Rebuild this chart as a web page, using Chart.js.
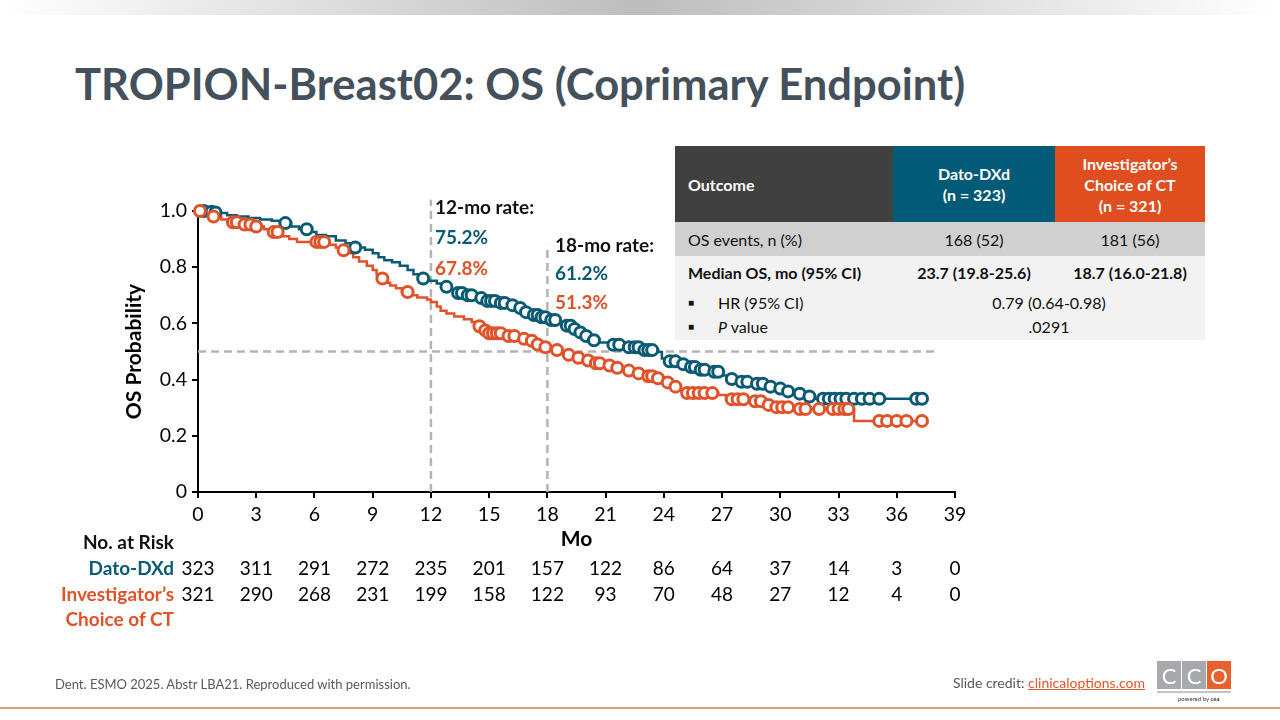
<!DOCTYPE html>
<html>
<head>
<meta charset="utf-8">
<script src="https://cdn.jsdelivr.net/npm/chart.js@4.4.1/dist/chart.umd.min.js"></script>
<style>
  body { margin: 0; width: 1280px; height: 720px; overflow: hidden; background: #fff; position: relative; font-family: Lato, "Open Sans", sans-serif; }
  .abs { position: absolute; white-space: nowrap; }
  #topbar { left: 0; top: 0; width: 1280px; height: 15px; background: linear-gradient(to right, #fff 0%, #bdbdbd 50%, #fff 100%); }
  #title { left: 75px; top: 57px; font-size: 43.5px; font-weight: 700; color: #44505c; }
  #chart { position: absolute; left: 0; top: 0; }
  .note { font-size: 19px; font-weight: 700; line-height: 30px; }
  .cell { position: absolute; box-sizing: border-box; display: flex; align-items: center; font-size: 16px; color: #111; }
  .hd { color: #fff; font-weight: 700; justify-content: center; text-align: center; line-height: 21px; }
  .risk { position: absolute; font-size: 19px; transform: translateX(-50%); }
  .rlab { position: absolute; font-size: 19px; font-weight: 700; right: 1106px; text-align: right; }
  #foot { left: 55px; top: 676px; font-size: 13px; color: #595959; }
  #credit { right: 135px; top: 674px; font-size: 14px; color: #595959; }
  #credit span { color: #e0562a; text-decoration: underline; }
  .logo { position: absolute; top: 661px; width: 24px; height: 28px; color: #fff; font-size: 22px; display: flex; align-items: center; justify-content: center; }
</style>
</head>
<body>
<div id="topbar" class="abs"></div>
<div id="title" class="abs">TROPION-Breast02: OS (Coprimary Endpoint)</div>
<canvas id="chart" width="1280" height="720"></canvas>

<div class="abs note" style="left:435px; top:192px; color:#111;">12-mo rate:</div>
<div class="abs note" style="left:435px; top:222px; color:#0b5a74;">75.2%</div>
<div class="abs note" style="left:435px; top:253px; color:#e0522a;">67.8%</div>
<div class="abs note" style="left:555px; top:230px; color:#111;">18-mo rate:</div>
<div class="abs note" style="left:555px; top:258px; color:#0b5a74;">61.2%</div>
<div class="abs note" style="left:555px; top:287px; color:#e0522a;">51.3%</div>

<div class="cell hd" style="left:675px; top:146px; width:218px; height:76px; background:#404040; justify-content:flex-start; padding-left:13px;">Outcome</div>
<div class="cell hd" style="left:893px; top:146px; width:162px; height:76px; background:#005a78;">Dato-DXd<br>(n = 323)</div>
<div class="cell hd" style="left:1055px; top:146px; width:150px; height:76px; background:#e04e1f;">Investigator’s<br>Choice of CT<br>(n = 321)</div>
<div class="cell" style="left:675px; top:222px; width:530px; height:34px; background:#d0d0d0;"></div>
<div class="cell" style="left:675px; top:256px; width:530px; height:84px; background:#f2f2f2;"></div>
<div class="cell" style="left:688px; top:222px; height:34px;">OS events, n (%)</div>
<div class="cell" style="left:893px; top:222px; width:162px; height:34px; justify-content:center;">168 (52)</div>
<div class="cell" style="left:1055px; top:222px; width:150px; height:34px; justify-content:center;">181 (56)</div>
<div class="cell" style="left:688px; top:256px; height:32px; font-weight:700;">Median OS, mo (95% CI)</div>
<div class="cell" style="left:893px; top:256px; width:162px; height:32px; justify-content:center; font-weight:700;">23.7 (19.8-25.6)</div>
<div class="cell" style="left:1055px; top:256px; width:150px; height:32px; justify-content:center; font-weight:700;">18.7 (16.0-21.8)</div>
<div class="cell" style="left:688px; top:290px; height:24px; font-size:10px;">■</div>
<div class="cell" style="left:718px; top:290px; height:24px;">HR (95% CI)</div>
<div class="cell" style="left:893px; top:290px; width:312px; height:24px; justify-content:center;">0.79 (0.64-0.98)</div>
<div class="cell" style="left:688px; top:314px; height:24px; font-size:10px;">■</div>
<div class="cell" style="left:718px; top:314px; height:24px;"><i>P</i>&nbsp;value</div>
<div class="cell" style="left:893px; top:314px; width:312px; height:24px; justify-content:center;">.0291</div>

<div class="rlab" style="top:530px; color:#111;">No. at Risk</div>
<div class="rlab" style="top:556px; color:#0b5a74;">Dato-DXd</div>
<div class="rlab" style="top:582px; color:#e0522a;">Investigator’s</div>
<div class="rlab" style="top:607px; color:#e0522a;">Choice of CT</div>
<div id="riskRows"></div>

<div id="foot" class="abs">Dent. ESMO 2025. Abstr LBA21. Reproduced with permission.</div>
<div id="credit" class="abs">Slide credit: <span>clinicaloptions.com</span></div>
<div class="logo" style="left:1157px; background:#a7a9ac;">C</div>
<div class="logo" style="left:1182px; background:#a7a9ac;">C</div>
<div class="logo" style="left:1207px; background:#e8602c;">O</div>
<div class="abs" style="left:1157px; top:691px; width:74px; height:2px; background:#c4c4c4;"></div>
<div class="abs" style="left:1178px; top:695px; font-size:6px; color:#333;">powered by <b>cea</b></div>
<div class="abs" style="left:0; top:707px; width:1280px; height:2px; background:#de9b7c;"></div>

<script>
// months on the x axis and patients at risk
const months = [0, 3, 6, 9, 12, 15, 18, 21, 24, 27, 30, 33, 36, 39];
const datoAtRisk = [323, 311, 291, 272, 235, 201, 157, 122, 86, 64, 37, 14, 3, 0];
const iccAtRisk = [321, 290, 268, 231, 199, 158, 122, 93, 70, 48, 27, 12, 4, 0];

// Kaplan-Meier steps [month, survival]
const datoSteps = [
    [0, 1.0], [0.5, 0.997], [1.0, 0.993], [1.5, 0.985], [2.0, 0.98], [2.6, 0.975], [3.2, 0.97],
    [3.8, 0.965], [4.3, 0.957], [4.8, 0.945], [5.2, 0.935], [5.8, 0.925], [6.1, 0.915], [6.6, 0.91],
    [7.1, 0.895], [7.6, 0.885], [7.9, 0.87], [8.6, 0.862], [9.0, 0.85], [9.3, 0.835], [9.6, 0.825],
    [10.0, 0.818], [10.4, 0.805], [10.8, 0.79], [11.1, 0.775], [11.5, 0.76], [11.9, 0.752],
    [12.3, 0.742], [12.6, 0.73], [12.9, 0.72], [13.3, 0.708], [13.7, 0.70], [14.3, 0.69],
    [14.8, 0.68], [15.4, 0.673], [16.0, 0.665], [16.4, 0.655], [16.8, 0.64], [17.1, 0.63],
    [17.6, 0.622], [18.0, 0.612], [18.6, 0.604], [18.9, 0.592], [19.3, 0.58], [19.6, 0.568],
    [19.9, 0.555], [20.2, 0.54], [20.5, 0.532], [21.2, 0.524], [22.0, 0.515], [22.8, 0.505],
    [23.7, 0.498], [23.9, 0.475], [24.1, 0.465], [24.8, 0.455], [25.2, 0.445], [25.8, 0.435],
    [26.4, 0.428], [27.0, 0.415], [27.3, 0.402], [27.8, 0.392], [28.6, 0.385], [29.3, 0.375],
    [29.8, 0.368], [30.2, 0.358], [30.7, 0.35], [31.2, 0.34], [31.7, 0.332], [37.3, 0.332]
];
const iccSteps = [
    [0, 1.0], [0.4, 0.99], [0.8, 0.98], [1.2, 0.97], [1.6, 0.96], [2.2, 0.952], [2.9, 0.945],
    [3.4, 0.935], [3.8, 0.925], [4.2, 0.91], [4.7, 0.90], [5.1, 0.89], [6.6, 0.88], [7.1, 0.87],
    [7.3, 0.86], [7.7, 0.85], [8.0, 0.835], [8.3, 0.82], [8.7, 0.805], [9.0, 0.79], [9.2, 0.775],
    [9.4, 0.76], [9.6, 0.745], [9.9, 0.735], [10.2, 0.725], [10.5, 0.712], [10.9, 0.70],
    [11.3, 0.692], [11.8, 0.685], [12.0, 0.676], [12.3, 0.66], [12.5, 0.645], [12.8, 0.635],
    [13.2, 0.625], [13.7, 0.615], [14.1, 0.605], [14.4, 0.59], [14.6, 0.575], [14.9, 0.565],
    [15.8, 0.555], [16.6, 0.545], [17.0, 0.538], [17.3, 0.525], [17.6, 0.515], [18.0, 0.513],
    [18.4, 0.505], [18.7, 0.497], [19.0, 0.488], [19.4, 0.478], [19.8, 0.468], [20.3, 0.458],
    [20.9, 0.45], [21.5, 0.442], [22.0, 0.432], [22.5, 0.422], [23.0, 0.412], [23.5, 0.405],
    [24.0, 0.39], [24.4, 0.375], [24.7, 0.362], [25.0, 0.352], [26.8, 0.345], [27.2, 0.33],
    [28.5, 0.323], [29.1, 0.31], [29.6, 0.302], [30.7, 0.295], [33.8, 0.253], [37.3, 0.253]
];

// censored patients [month, survival]
const datoCensored = [
    [0.3, 1.0], [0.7, 0.997], [0.9, 0.995], [4.5, 0.957], [5.6, 0.935], [8.1, 0.87], [11.6, 0.76],
    [12.8, 0.73], [13.4, 0.708], [13.6, 0.708], [13.9, 0.70], [14.1, 0.70], [14.6, 0.69],
    [14.9, 0.68], [15.1, 0.68], [15.3, 0.68], [15.6, 0.673], [15.8, 0.673], [16.2, 0.665],
    [16.6, 0.655], [16.9, 0.64], [17.3, 0.63], [17.5, 0.63], [17.7, 0.622], [17.9, 0.622],
    [18.2, 0.612], [18.4, 0.612], [19.0, 0.592], [19.2, 0.592], [19.4, 0.58], [19.7, 0.568],
    [20.0, 0.555], [20.4, 0.54], [21.4, 0.524], [21.7, 0.524], [22.2, 0.515], [22.5, 0.515],
    [22.7, 0.515], [23.0, 0.505], [23.2, 0.505], [23.4, 0.505], [24.3, 0.465], [24.6, 0.465],
    [25.0, 0.455], [25.4, 0.445], [25.6, 0.445], [25.9, 0.435], [26.1, 0.435], [26.6, 0.428],
    [26.8, 0.428], [27.5, 0.402], [28.0, 0.392], [28.3, 0.392], [28.8, 0.385], [29.1, 0.385],
    [29.5, 0.375], [30.0, 0.368], [30.4, 0.358], [31.0, 0.35], [31.5, 0.34], [32.2, 0.332],
    [32.5, 0.332], [32.8, 0.332], [33.1, 0.332], [33.4, 0.332], [33.8, 0.332], [34.2, 0.332],
    [34.6, 0.332], [35.1, 0.332], [37.0, 0.332], [37.3, 0.332]
];
const iccCensored = [
    [0.1, 1.0], [0.8, 0.98], [1.8, 0.96], [2.0, 0.96], [2.4, 0.952], [2.7, 0.952], [3.0, 0.945],
    [3.9, 0.925], [4.1, 0.925], [6.1, 0.89], [6.3, 0.89], [6.5, 0.89], [7.5, 0.86], [9.5, 0.76],
    [10.8, 0.712], [14.5, 0.59], [14.8, 0.575], [15.0, 0.565], [15.2, 0.565], [15.4, 0.565],
    [15.6, 0.565], [16.0, 0.555], [16.3, 0.555], [16.8, 0.545], [17.2, 0.538], [17.5, 0.525],
    [17.9, 0.515], [18.5, 0.505], [19.1, 0.488], [19.6, 0.478], [20.1, 0.468], [20.5, 0.458],
    [20.7, 0.458], [21.2, 0.45], [21.6, 0.442], [22.2, 0.432], [22.7, 0.422], [23.2, 0.412],
    [23.4, 0.412], [23.7, 0.405], [24.2, 0.39], [24.6, 0.375], [25.2, 0.352], [25.5, 0.352],
    [25.8, 0.352], [26.1, 0.352], [26.5, 0.352], [27.5, 0.33], [27.8, 0.33], [28.1, 0.33],
    [28.7, 0.323], [29.0, 0.323], [29.4, 0.31], [29.8, 0.302], [30.1, 0.302], [30.4, 0.302],
    [31.0, 0.295], [31.3, 0.295], [32.0, 0.295], [32.7, 0.295], [33.0, 0.295], [33.3, 0.295],
    [33.5, 0.295], [35.1, 0.253], [35.5, 0.253], [36.0, 0.253], [36.5, 0.253], [37.3, 0.253]
];

// dashed guide lines: median and landmark months
const medianLine = [[0, 0.5], [38, 0.5]];
const line12 = [[12, 0], [12, 1.04]];
const line18 = [[18, 0], [18, 0.88]];

const TEAL = '#0b5a74';
const ORANGE = '#e0522a';
const GUIDE = '#b4b4b4';

const toXY = arr => arr.map(p => ({ x: p[0], y: p[1] }));

function censorSet(data, color) {
    return {
        data: toXY(data), showLine: false, clip: false,
        pointRadius: 5.5, pointHoverRadius: 5.5, pointBorderWidth: 3,
        pointBorderColor: color, pointBackgroundColor: '#fff'
    };
}
function stepSet(data, color) {
    return {
        data: toXY(data), stepped: true, borderColor: color, borderWidth: 2.5,
        pointRadius: 0, fill: false, clip: false
    };
}
function guideSet(data) {
    return {
        data: toXY(data), borderColor: GUIDE, borderWidth: 2.5, borderDash: [8, 5],
        pointRadius: 0, fill: false, clip: false
    };
}

const axisFont = { family: 'Lato', size: 19.5 };
const titleFont = { family: 'Lato', size: 21, weight: 'bold' };

const chart = new Chart(document.getElementById('chart').getContext('2d'), {
    type: 'line',
    data: {
        datasets: [
            censorSet(iccCensored, ORANGE),
            censorSet(datoCensored, TEAL),
            stepSet(iccSteps, ORANGE),
            stepSet(datoSteps, TEAL),
            guideSet(medianLine),
            guideSet(line12),
            guideSet(line18)
        ]
    },
    options: {
        responsive: false,
        animation: false,
        layout: { padding: { left: 120, right: 325, top: 211, bottom: 168 } },
        plugins: { legend: { display: false }, tooltip: { enabled: false } },
        scales: {
            x: {
                type: 'linear', min: 0, max: 39,
                afterFit: s => { s.height = 60; },
                ticks: { stepSize: 3, color: '#000', font: axisFont, padding: 5 },
                grid: { display: true, drawOnChartArea: false, tickLength: 6, color: '#000', lineWidth: 2 },
                border: { color: '#000', width: 2 },
                title: { display: true, text: 'Mo', color: '#000', font: titleFont, padding: 0 }
            },
            y: {
                min: 0, max: 1,
                afterFit: s => { s.width = 78; },
                ticks: {
                    stepSize: 0.2, color: '#000', font: axisFont, padding: 5,
                    callback: v => v === 0 ? '0' : v.toFixed(1)
                },
                grid: { display: true, drawOnChartArea: false, tickLength: 6, color: '#000', lineWidth: 2 },
                border: { color: '#000', width: 2 },
                title: { display: true, text: 'OS Probability', color: '#000', font: titleFont, padding: 2 }
            }
        }
    }
});

// numbers at risk, placed under the month ticks
const rows = document.getElementById('riskRows');
function addRiskRow(values, top) {
    values.forEach((n, i) => {
        const d = document.createElement('div');
        d.className = 'risk';
        d.style.left = chart.scales.x.getPixelForValue(months[i]) + 'px';
        d.style.top = top + 'px';
        d.textContent = n;
        rows.appendChild(d);
    });
}
addRiskRow(datoAtRisk, 556);
addRiskRow(iccAtRisk, 582);
</script>
</body>
</html>
